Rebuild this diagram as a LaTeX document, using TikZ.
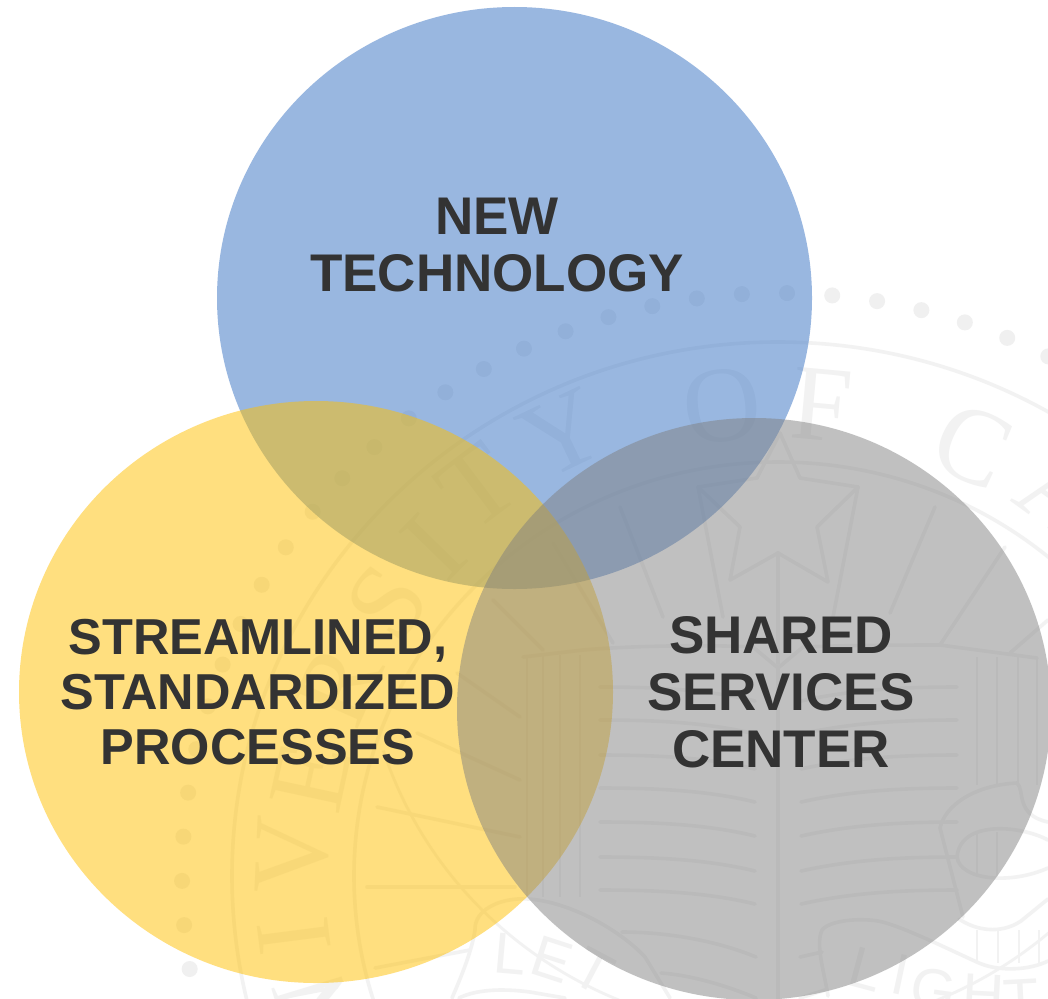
\documentclass[tikz,border=0pt]{standalone}
\usepackage{fontspec}
\setmainfont{Liberation Sans}
\newfontfamily\sealfont{Liberation Serif}
\definecolor{wm}{HTML}{F2F2F2}
\definecolor{wmdot}{HTML}{F0F0F0}
\definecolor{cblue}{RGB}{53,113,195}
\definecolor{cyellow}{HTML}{FFC000}
\definecolor{cgray}{HTML}{7F7F7F}
\definecolor{ink}{HTML}{333333}
\tikzset{
  sealline/.style={draw=wm,line width=3.6pt,line cap=round,line join=round},
  sealthin/.style={draw=wm,line width=2.8pt},
  sealletter/.style={text=wm,inner sep=0pt,font=\sealfont\fontsize{108}{108}\selectfont},
  ribbonletter/.style={text=wm,inner sep=0pt,font=\fontsize{58}{58}\selectfont},
  label/.style={text=ink,align=center,inner sep=0pt,font=\bfseries},
  lblA/.style={label,font=\fontsize{53}{57}\selectfont\bfseries},
  lblB/.style={label,font=\fontsize{50.5}{55}\selectfont\bfseries}
}
\begin{document}
\begin{tikzpicture}[x=1pt,y=-1pt]
\useasboundingbox (0,0) rectangle (1048,998);
\clip (0,0) rectangle (1048,998);
\fill[white] (0,0) rectangle (1048,998);
% watermark seal
\foreach \k in {-25,...,8}
  \fill[wmdot] ({778+596*sin(0.87+4.35*\k)},{876-583*cos(0.87+4.35*\k)}) circle (8);
\draw[sealline] (778,876) ellipse [x radius=546,y radius=534];
\draw[sealline] (778,876) ellipse [x radius=424,y radius=414];
\draw[sealthin] ({778+415*sin(-72)},{876-406*cos(-72)}) arc[start angle=-162,end angle=-18,x radius=415,y radius=-406];
\foreach \a/\r/\l in {-107/472/N,-97.3/477/I,-87.5/475/V,-77.8/468/E,-66/470/R,-54.5/470/S,-45.7/471/I,-37/488/T,-25.5/490/Y,-6.7/473/O,5.2/473/F,23.9/471/C,36/472/A}
  \node[sealletter,rotate=-\a] at ({778+1.022*\r*sin(\a)},{876-\r*cos(\a)}) {\l};
% star
\draw[sealline] (780,433) -- (800,478) -- (858,487) -- (817,527) -- (828,582) -- (778,553) -- (730,580) -- (740,527) -- (698,487) -- (757,478) -- cycle;
% rays
\draw[sealline] (778,553) -- (778,663);
\draw[sealline] (620,507) -- (663,617);
\draw[sealline] (698,487) -- (723,617);
\draw[sealline] (858,487) -- (833,617);
\draw[sealline] (935,507) -- (890,613);
\draw[sealline] (1005,547) -- (940,645);
\draw[sealline] (553,543) -- (613,643);
\draw[sealline] (1010,653) -- (1048,620);
\draw[sealline] (493,600) -- (543,650);
\draw[sealline] (457,673) -- (520,717);
\draw[sealline] (417,733) -- (520,780);
\draw[sealline] (377,807) -- (520,837);
\draw[sealline] (367,887) -- (515,887);
\draw[sealline] (375,968) -- (470,950);
% book
\draw[sealline] (778,668) -- (778,998);
\draw[sealline] (523,657) -- (583,650) .. controls (640,645) and (720,645) .. (753,647) -- (778,668) -- (803,647) .. controls (850,645) and (920,645) .. (940,645) -- (1037,658);
\foreach \y in {687,720,755,788,822,857,890}{
  \draw[sealline] (957,\y) .. controls (900,\y) and (850,\y+3) .. (801,\y+14);
  \draw[sealline] (600,\y) .. controls (660,\y) and (710,\y+3) .. (755,\y+14);
}
\draw[sealline] (622,932) .. controls (665,932) and (715,940) .. (756,957);
\draw[sealline] (661,973) .. controls (690,975) and (725,985) .. (756,998);
\draw[sealline] (800,957) -- (822,952);
\draw[sealline] (800,998) -- (825,990);
% columns
\foreach \x in {527,543,560,580}
  \draw[sealthin] (\x,655) -- (\x,897);
\foreach \x in {977,997,1018,1037}
  \draw[sealthin] (\x,657) -- (\x,785);
% scroll on the right
\draw[sealline] (940,828) .. controls (945,805) and (975,785) .. (1017,783) .. controls (1025,790) and (1015,815) .. (1048,822);
\draw[sealline] (940,828) -- (963,917);
\draw[sealline] (1048,840) .. controls (1020,825) and (960,820) .. (957,857) .. controls (960,880) and (1010,885) .. (1048,868);
\foreach \x in {977,997}
  \draw[sealthin] (\x,832) -- (\x,877);
\foreach \x in {977,998,1019,1039}
  \draw[sealthin] (\x,930) -- (\x,963);
\draw[sealline] (959,919) .. controls (975,930) and (1000,935) .. (1021,921) -- (1048,899);
\draw[sealline] (828,996) .. controls (825,975) and (815,945) .. (822,930) .. controls (830,920) and (860,918) .. (878,921) .. controls (900,925) and (950,950) .. (979,963) .. controls (1000,972) and (1030,970) .. (1048,961);
% ribbon on the left
\draw[sealline] (452,998) .. controls (462,975) and (472,950) .. (475,930) .. controls (474,910) and (500,897) .. (529,899) .. controls (570,902) and (620,930) .. (645,957) -- (670,998);
\draw[sealline] (459,998) .. controls (475,990) and (500,988) .. (530,992) -- (565,998);
\draw[sealline] (280,998) -- (337,987);
\foreach \x/\y/\r/\l in {510/954/-5/L,552/959/-18/E,593/971/-28/T,866/969/-15/L,901/975/-12/I,934/990/-8/G,983/995/-3/H,1021/1000/3/T}
  \node[ribbonletter,rotate=\r] at (\x,\y) {\l};
% venn circles
\fill[cblue,fill opacity=.5] (514.5,298) ellipse [x radius=297.5,y radius=291];
\fill[cyellow,fill opacity=.5] (316,692) ellipse [x radius=297,y radius=291];
\fill[cgray,fill opacity=.485] (754,709) ellipse [x radius=297,y radius=291];
% labels
\node[lblA] (tech) at (497,245) {NEW\\TECHNOLOGY};
\node[lblB] (proc) at (258,692) {STREAMLINED,\\STANDARDIZED\\PROCESSES};
\node[lblA] (ssc) at (781,692) {SHARED\\SERVICES\\CENTER};
\end{tikzpicture}
\end{document}
